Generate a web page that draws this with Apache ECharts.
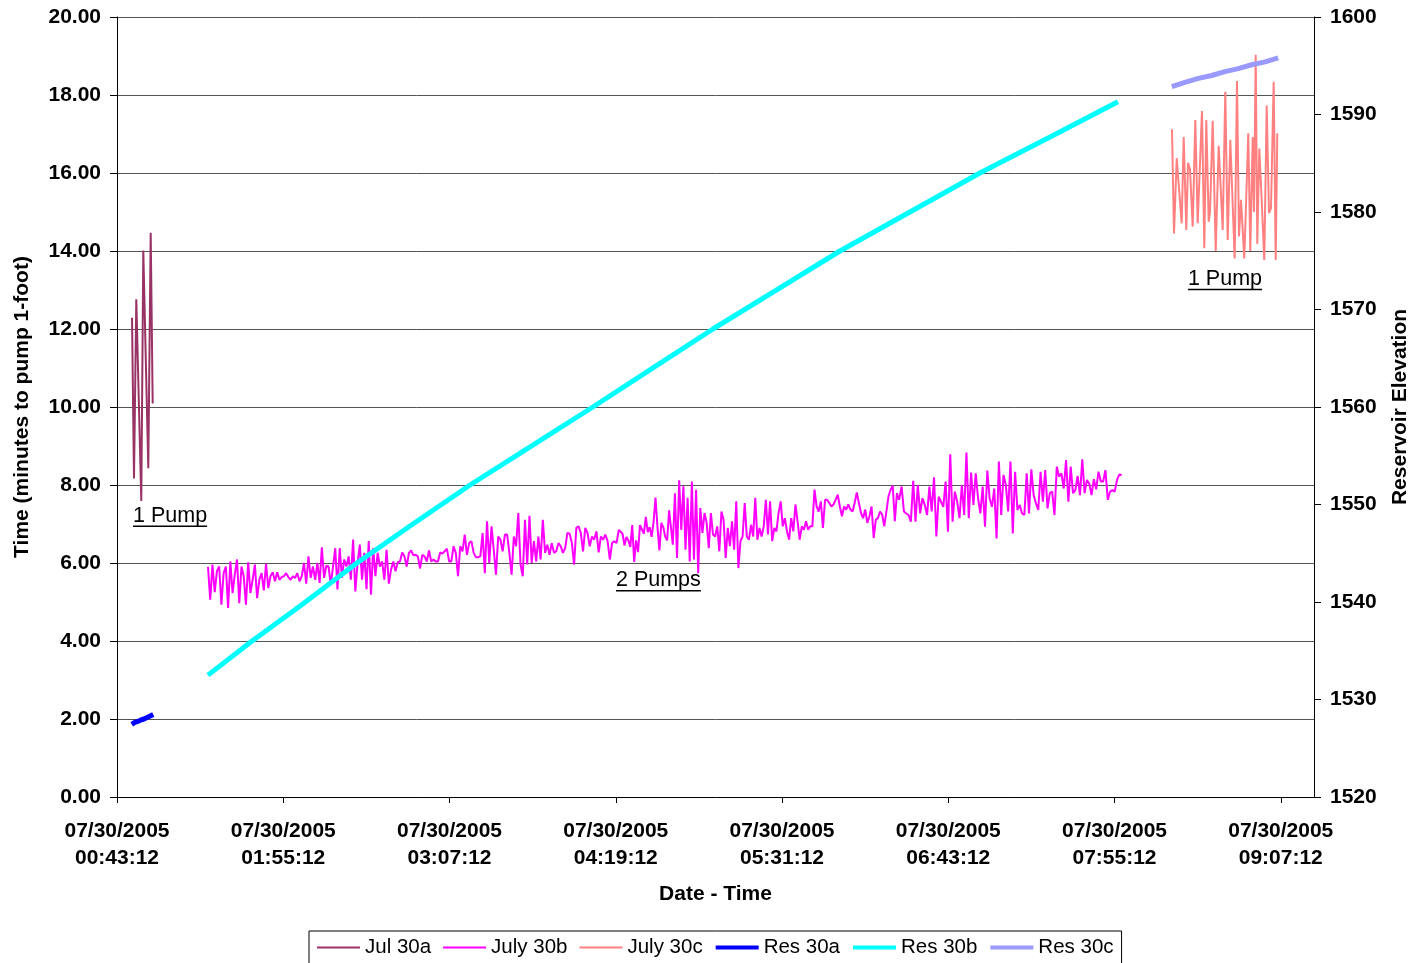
<!DOCTYPE html>
<html><head><meta charset="utf-8">
<script src="https://cdn.jsdelivr.net/npm/echarts@6/dist/echarts.min.js"></script>
<style>html,body{margin:0;padding:0;background:#fff}#c{width:1416px;height:963px}</style>
</head><body><div id="c"></div>
<script>
// Time values are minutes after 07/30/2005 00:43:12
const xTickValues = [0, 72, 144, 216, 288, 360, 432, 504];
const xTickLabels = ['07/30/2005\n00:43:12', '07/30/2005\n01:55:12', '07/30/2005\n03:07:12', '07/30/2005\n04:19:12',
                     '07/30/2005\n05:31:12', '07/30/2005\n06:43:12', '07/30/2005\n07:55:12', '07/30/2005\n09:07:12'];
const xMin = 0, xMax = 518.4, xInterval = 72;
const leftMin = 0, leftMax = 20, leftInterval = 2;
const rightMin = 1520, rightMax = 1600, rightInterval = 10;

const seriesNames = ['Jul 30a', 'July 30b', 'July 30c', 'Res 30a', 'Res 30b', 'Res 30c'];

// Jul 30a (left axis)
const jul30aTimes = [6.50, 7.36, 8.36, 10.52, 11.39, 13.56, 14.59, 15.46];
const jul30aValues = [12.29, 8.17, 12.76, 7.59, 14.01, 8.43, 14.47, 10.09];

// July 30b (left axis) — four stretches, each evenly sampled between its start and end time
const july30bSegTimes = [[39.41, 217.3], [218.1, 239.1], [239.8, 338.7], [339.8, 435.1]];
const july30bSeg1 = [5.90,5.06,5.96,5.25,5.79,5.91,4.93,5.74,5.91,4.85,
6.04,5.23,5.70,6.09,4.97,5.91,5.66,4.93,6.02,5.23,
5.57,5.96,5.10,5.57,5.74,5.30,5.98,5.36,5.66,5.76,
5.53,5.76,5.57,5.64,5.66,5.74,5.64,5.57,5.66,5.62,
5.74,5.53,5.66,6.00,5.47,6.17,5.62,5.91,5.57,6.00,
5.49,6.40,5.62,5.93,5.91,5.44,5.91,6.38,5.32,6.38,
5.62,6.09,5.91,6.17,5.57,6.60,5.27,6.00,6.47,5.57,
6.26,5.33,6.56,5.19,6.38,5.66,6.26,5.91,6.04,5.57,
6.34,5.47,5.83,6.04,5.79,6.02,6.04,6.27,6.17,5.91,
6.26,6.32,6.20,6.21,6.17,5.86,6.21,6.17,6.04,6.32,
6.04,6.09,6.04,6.04,6.27,6.24,6.30,6.37,6.04,6.04,
6.43,6.26,5.66,6.43,6.30,6.73,6.21,6.51,6.56,6.26,
6.15,6.15,6.17,6.77,5.74,7.07,6.00,6.94,6.34,5.70,
6.68,6.60,6.30,6.73,6.73,6.26,5.70,6.68,6.43,7.28,
5.96,5.66,7.11,5.96,7.21,6.00,6.56,6.04,6.68,6.09,
7.11,6.26,6.47,6.21,6.51,6.26,6.30,6.51,6.43,6.26,
6.38,6.77,6.75,6.51,5.96,6.90,6.94,6.77,6.30,6.90,
6.77,6.43,6.68,6.60,6.81,6.27,6.68,6.60,6.73,6.56,
6.09,6.51,6.56,6.51,6.85];
const july30bSeg2 = [6.84,6.75,6.45,6.67,6.58,6.41,6.97,6.03,6.58,6.28,
6.97,7.01,6.75,7.18,6.79,6.92,6.67,7.05,7.68,6.92,
6.32,7.03,6.92,6.67,6.58,7.35];
const july30bSeg3 = [7.37,6.47,7.79,6.13,8.12,6.85,7.97,6.34,7.67,6.04,
8.09,6.09,7.88,5.74,7.41,6.77,7.28,7.03,6.38,7.28,
6.73,6.68,6.94,6.30,7.32,7.11,6.13,6.90,6.43,7.07,
6.34,7.58,5.87,6.56,6.68,7.54,6.68,6.60,6.98,6.68,
7.67,6.60,6.90,6.68,6.94,7.62,6.73,7.58,6.56,6.90,
6.81,7.28,7.58,6.94,7.15,6.81,6.60,7.15,6.81,7.50,
7.07,6.60,6.94,6.85,7.07,6.85,6.94,6.94,7.88,7.45,
7.32,7.58,6.90,7.62,7.62,7.54,7.45,7.50,7.62,7.75,
7.45,7.20,7.45,7.37,7.50,7.37,7.32,7.54,7.81,7.54,
7.28,7.15,7.37,7.03,7.20,7.45,6.64,7.11,7.15,7.32,
7.24,6.94,7.32,7.71,7.88,7.98,7.07,7.79,7.62];
const july30bSeg4 = [7.96,7.32,7.27,7.23,7.06,8.11,7.06,8.00,7.27,7.66,
7.49,7.23,7.96,7.32,8.20,6.68,7.70,7.57,7.44,8.09,
6.80,8.79,7.06,7.83,7.57,7.15,8.00,7.23,8.83,7.15,
8.32,7.49,8.30,7.66,7.27,7.96,6.93,8.37,7.66,7.44,
7.91,6.63,8.60,7.23,8.26,8.00,7.32,8.60,6.76,8.34,
7.36,7.49,7.27,7.23,8.30,7.27,8.40,7.74,7.53,7.36,
8.34,7.57,8.38,7.40,7.79,7.83,7.23,8.47,8.21,8.30,
7.91,8.64,7.57,8.47,7.79,7.87,8.23,7.74,8.66,7.79,
8.13,8.04,7.74,8.15,7.89,8.34,8.09,8.09,8.38,7.62,
7.83,7.87,7.83,8.13,8.27,8.25];

// July 30c (left axis)
const july30cTimes = [456.90,457.77,458.94,461.10,461.97,463.10,463.83,464.70,465.87,466.99,
468.03,469.89,470.89,471.75,472.79,473.36,474.53,475.83,477.12,478.86,
479.98,481.02,482.15,484.05,485.05,485.91,486.78,488.21,489.94,490.81,
491.85,492.41,493.15,493.84,494.71,495.75,496.87,497.91,498.91,499.77,
500.94,501.81,502.50];
const july30cValues = [17.12,14.45,16.38,14.71,16.92,14.54,16.26,16.10,14.62,17.36,
14.71,17.59,14.07,17.36,14.75,15.00,17.34,14.00,16.70,14.54,
18.08,14.28,16.85,13.81,18.36,14.37,15.31,13.81,17.02,14.00,
16.92,15.00,19.03,14.18,16.63,15.30,13.77,17.73,14.97,15.10,
18.34,13.77,17.02];

// Reservoir elevations (right axis)
const res30aTimes = [6.4, 7.7, 9.0, 10.4, 11.7, 13.0, 14.4, 15.7];
const res30aValues = [1527.45, 1527.65, 1527.75, 1527.9, 1528.0, 1528.15, 1528.3, 1528.45];
const res30bTimes = [39.4, 58.5, 79.3, 103.9, 126.9, 152.9, 178.9, 206.1, 230.8, 258.1, 285.0, 313.1, 343.4, 373.7, 404.1, 433.5];
const res30bValues = [1532.5, 1536.0, 1539.6, 1544.0, 1547.8, 1552.0, 1555.9, 1560.0, 1563.8, 1568.0, 1571.9, 1576.0, 1580.0, 1584.0, 1587.7, 1591.3];
const res30cTimes = [456.8, 462.5, 468.3, 474.1, 479.8, 485.6, 491.4, 497.2, 502.9];
const res30cValues = [1592.85, 1593.3, 1593.7, 1594.0, 1594.4, 1594.7, 1595.1, 1595.4, 1595.8];

// Annotations [time, left-axis value, text]
const annotations = [[6.93, 7.21, '1 Pump'], [216.1, 5.56, '2 Pumps'], [463.8, 13.28, '1 Pump']];

const FONT = "'Liberation Sans', Arial, Helvetica, sans-serif";
const zip = (t, v) => t.map((x, i) => [x, v[i]]);
function spread(seg, vals) {
  const n = vals.length;
  return vals.map((v, i) => [seg[0] + (seg[1] - seg[0]) * i / (n - 1), v]);
}
const july30bData = [].concat(
  spread(july30bSegTimes[0], july30bSeg1),
  spread(july30bSegTimes[1], july30bSeg2),
  spread(july30bSegTimes[2], july30bSeg3),
  spread(july30bSegTimes[3], july30bSeg4));

const colors = ['#993366', '#FF00FF', '#FF8080', '#0000FF', '#00FFFF', '#9999FF'];
const widths = [2, 2, 2, 5, 5, 5];
const legendWidths = [2, 2, 2, 4, 4, 4];
const datas = [zip(jul30aTimes, jul30aValues), july30bData, zip(july30cTimes, july30cValues),
               zip(res30aTimes, res30aValues), zip(res30bTimes, res30bValues), zip(res30cTimes, res30cValues)];

const chart = echarts.init(document.getElementById('c'), null, {renderer: 'canvas'});
const axisLabelStyle = {color: '#000', fontFamily: FONT, fontWeight: 'bold', fontSize: 21};
chart.setOption({
  animation: false,
  backgroundColor: '#fff',
  grid: {left: 117, right: 102, top: 17, bottom: 166, containLabel: false, outerBoundsMode: 'none'},
  legend: {
    data: seriesNames.map((n, i) => ({name: n, lineStyle: {width: legendWidths[i], color: colors[i]}})),
    left: 309, top: 931, orient: 'horizontal',
    borderColor: '#000', borderWidth: 1, padding: [6, 8, 6, 7],
    itemWidth: 43, itemHeight: 14, itemGap: 11,
    itemStyle: {color: 'rgba(0,0,0,0)', borderWidth: 0, opacity: 0},
    textStyle: {color: '#000', fontFamily: FONT, fontSize: 20.5}
  },
  xAxis: {
    type: 'value', min: xMin, max: xMax, interval: xInterval,
    name: 'Date - Time', nameLocation: 'middle', nameGap: 87,
    nameTextStyle: axisLabelStyle,
    axisLine: {show: true, onZero: false, lineStyle: {color: '#000', width: 1}},
    axisTick: {show: true, length: 6, inside: false, customValues: xTickValues, lineStyle: {color: '#000'}},
    axisLabel: Object.assign({margin: 21, lineHeight: 27, customValues: xTickValues,
      formatter: v => { const i = xTickValues.indexOf(Math.round(v * 10) / 10); return i >= 0 ? xTickLabels[i] : ''; }}, axisLabelStyle),
    splitLine: {show: false}
  },
  yAxis: [{
    type: 'value', min: leftMin, max: leftMax, interval: leftInterval, position: 'left',
    name: 'Time (minutes to pump 1-foot)', nameLocation: 'middle', nameGap: 84, nameRotate: 90,
    nameTextStyle: axisLabelStyle,
    axisLine: {show: true, lineStyle: {color: '#000', width: 1}},
    axisTick: {show: true, length: 7, lineStyle: {color: '#000'}},
    axisLabel: Object.assign({margin: 16, formatter: v => v.toFixed(2)}, axisLabelStyle),
    splitLine: {show: true, lineStyle: {color: '#555', width: 1}}
  }, {
    type: 'value', min: rightMin, max: rightMax, interval: rightInterval, position: 'right',
    name: 'Reservoir Elevation', nameLocation: 'middle', nameGap: 76, nameRotate: 90,
    nameTextStyle: axisLabelStyle,
    axisLine: {show: true, lineStyle: {color: '#000', width: 1}},
    axisTick: {show: true, length: 7, lineStyle: {color: '#000'}},
    axisLabel: Object.assign({margin: 16, formatter: v => String(Math.round(v))}, axisLabelStyle),
    splitLine: {show: false}
  }],
  series: seriesNames.map((name, i) => ({
    name, type: 'line', yAxisIndex: i < 3 ? 0 : 1, data: datas[i],
    showSymbol: false, symbol: 'none', smooth: false,
    color: colors[i],
    lineStyle: {color: colors[i], width: widths[i]},
    z: 2 + i
  }))
});

// underlined annotation texts anchored at data coordinates
const ANN_FONT = '21.5px ' + FONT;
const ctx = document.createElement('canvas').getContext('2d');
ctx.font = ANN_FONT;
const graphics = [];
annotations.forEach(a => {
  const p = chart.convertToPixel({xAxisIndex: 0, yAxisIndex: 0}, [a[0], a[1]]);
  const w = ctx.measureText(a[2]).width;
  graphics.push({type: 'text', left: p[0], top: p[1] - 11, z: 100,
    style: {text: a[2], fill: '#000', font: ANN_FONT}});
  graphics.push({type: 'line', z: 100,
    shape: {x1: p[0], y1: p[1] + 10.5, x2: p[0] + w, y2: p[1] + 10.5},
    style: {stroke: '#000', lineWidth: 1.5}});
});
chart.setOption({graphic: graphics});
</script></body></html>
